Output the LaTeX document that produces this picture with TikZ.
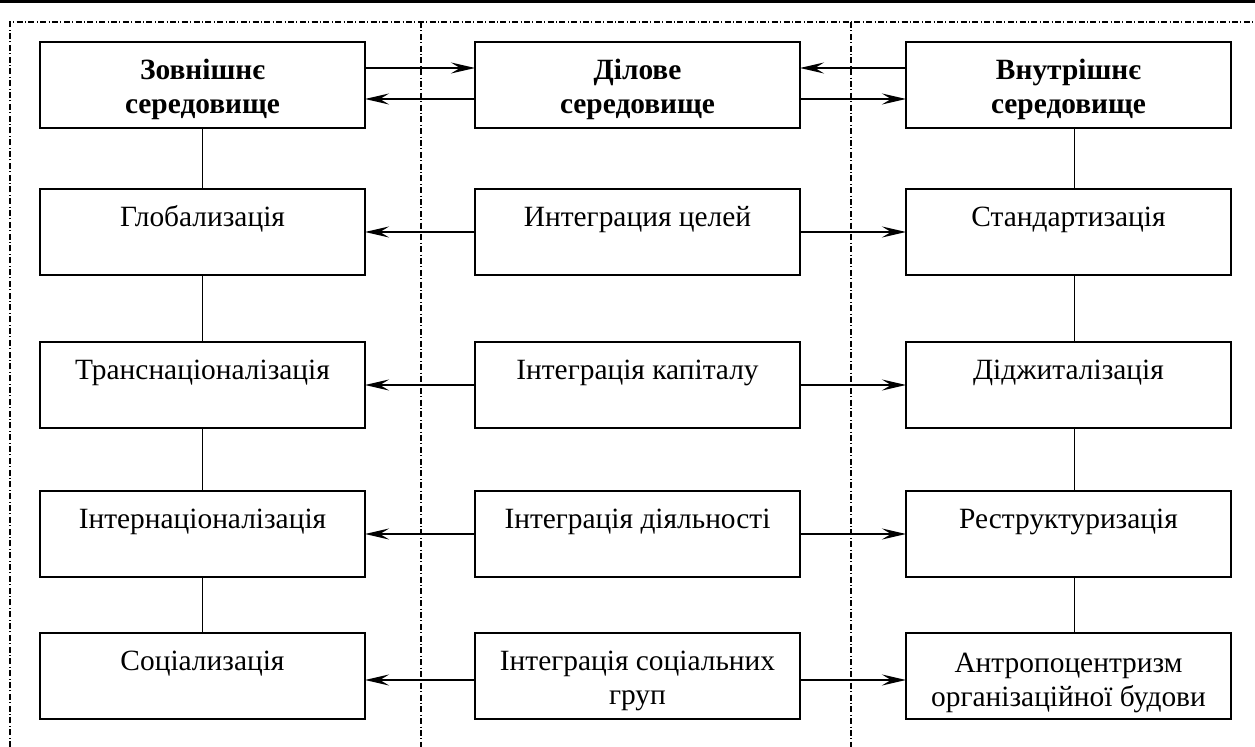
\documentclass[tikz,border=0pt]{standalone}
\usepackage{fontspec}
\setmainfont{Liberation Serif}
\usetikzlibrary{arrows.meta}

\begin{document}
\begin{tikzpicture}
\begin{scope}

\tikzstyle{boxnode} = [minimum width=162.5pt,minimum height=43pt,draw,line width=1.2pt,inner sep=0pt,outer sep=0pt];
\tikzstyle{textnode} = [anchor=base,align=center,inner sep=0pt,font=\fontsize{14.7pt}{16.75pt}\selectfont];
\tikzstyle{headnode} = [anchor=base,align=center,inner sep=0pt,font=\fontsize{14.7pt}{16.75pt}\selectfont\bfseries];
\tikzstyle{frameline} = [line width=0.75pt,dash pattern=on 3pt off 1.2pt on 0.5pt off 1.2pt];
\tikzstyle{arrowline} = [-{Stealth[length=12pt,width=5.5pt,inset=4.5pt]},line width=1.2pt];
\tikzstyle{linkline} = [line width=0.8pt];

\useasboundingbox (0,0) rectangle (627.5pt,-373.5pt);

% frame
\draw [line width=1.5pt] (0,-0.75pt) -- (627.5pt,-0.75pt);
\draw [frameline] (5pt,-373.5pt) -- (5pt,-11pt) -- (627.5pt,-11pt);
\draw [frameline] (210.5pt,-11pt) -- (210.5pt,-373.5pt);
\draw [frameline] (425.5pt,-11pt) -- (425.5pt,-373.5pt);

\node [boxnode,anchor=north west] (a1) at (20pt,-21pt) {};
\node [boxnode,anchor=north west] (b1) at ([xshift=55pt]a1.north east) {};
\node [boxnode,anchor=north west] (c1) at ([xshift=53pt]b1.north east) {};

\node [boxnode,anchor=north] (a2) at ([yshift=-30.5pt]a1.south) {};
\node [boxnode,anchor=north] (b2) at ([yshift=-30.5pt]b1.south) {};
\node [boxnode,anchor=north] (c2) at ([yshift=-30.5pt]c1.south) {};

\node [boxnode,anchor=north] (a3) at ([yshift=-33.5pt]a2.south) {};
\node [boxnode,anchor=north] (b3) at ([yshift=-33.5pt]b2.south) {};
\node [boxnode,anchor=north] (c3) at ([yshift=-33.5pt]c2.south) {};

\node [boxnode,anchor=north] (a4) at ([yshift=-31.5pt]a3.south) {};
\node [boxnode,anchor=north] (b4) at ([yshift=-31.5pt]b3.south) {};
\node [boxnode,anchor=north] (c4) at ([yshift=-31.5pt]c3.south) {};

\node [boxnode,anchor=north] (a5) at ([yshift=-28pt]a4.south) {};
\node [boxnode,anchor=north] (b5) at ([yshift=-28pt]b4.south) {};
\node [boxnode,anchor=north] (c5) at ([yshift=-28pt]c4.south) {};

% texts (base of a two-line node is its last line)
\node [headnode] (a11) at ([yshift=-35.75pt]a1.north) {Зовнішнє\\середовище};
\node [headnode] (b11) at ([yshift=-35.75pt]b1.north) {Ділове\\середовище};
\node [headnode] (c11) at ([yshift=-35.75pt]c1.north) {Внутрішнє\\середовище};

\node [textnode] (a21) at ([yshift=-19pt]a2.north) {Глобализація};
\node [textnode] (b21) at ([yshift=-19pt]b2.north) {Интеграция целей};
\node [textnode] (c21) at ([yshift=-19pt]c2.north) {Стандартизація};

\node [textnode] (a31) at ([yshift=-19pt]a3.north) {Транснаціоналізація};
\node [textnode] (b31) at ([yshift=-19pt]b3.north) {Інтеграція капіталу};
\node [textnode] (c31) at ([yshift=-19pt]c3.north) {Діджиталізація};

\node [textnode] (a41) at ([yshift=-19pt]a4.north) {Інтернаціоналізація};
\node [textnode] (b41) at ([yshift=-19pt]b4.north) {Інтеграція діяльності};
\node [textnode] (c41) at ([yshift=-19pt]c4.north) {Реструктуризація};

\node [textnode] (a51) at ([yshift=-19pt]a5.north) {Соціализація};
\node [textnode] (b51) at ([yshift=-35.75pt]b5.north) {Інтеграція соціальних\\груп};
\node [textnode] (c51) at ([yshift=-36.75pt]c5.north) {Антропоцентризм\\організаційної будови};

% arrows
\draw [arrowline] ([yshift=-13pt]a1.north east) -- ([yshift=-13pt]b1.north west);
\draw [arrowline] ([yshift=-28.5pt]b1.north west) -- ([yshift=-28.5pt]a1.north east);
\draw [arrowline] ([yshift=-13pt]c1.north west) -- ([yshift=-13pt]b1.north east);
\draw [arrowline] ([yshift=-28.5pt]b1.north east) -- ([yshift=-28.5pt]c1.north west);

\draw [arrowline] (b2.west) -- (a2.east);
\draw [arrowline] (b2.east) -- (c2.west);
\draw [arrowline] (b3.west) -- (a3.east);
\draw [arrowline] (b3.east) -- (c3.west);
\draw [arrowline] (b4.west) -- (a4.east);
\draw [arrowline] (b4.east) -- (c4.west);
\draw [arrowline] ([yshift=-2pt]b5.west) -- ([yshift=-2pt]a5.east);
\draw [arrowline] ([yshift=-2pt]b5.east) -- ([yshift=-2pt]c5.west);

% links
\draw [linkline] (a1.south) -- (a2.north);
\draw [linkline] (a2.south) -- (a3.north);
\draw [linkline] (a3.south) -- (a4.north);
\draw [linkline] (a4.south) -- (a5.north);
\draw [linkline] ([xshift=3pt]c1.south) -- ([xshift=3pt]c2.north);
\draw [linkline] ([xshift=3pt]c2.south) -- ([xshift=3pt]c3.north);
\draw [linkline] ([xshift=3pt]c3.south) -- ([xshift=3pt]c4.north);
\draw [linkline] ([xshift=3pt]c4.south) -- ([xshift=3pt]c5.north);

\end{scope}
\end{tikzpicture}
\end{document}
